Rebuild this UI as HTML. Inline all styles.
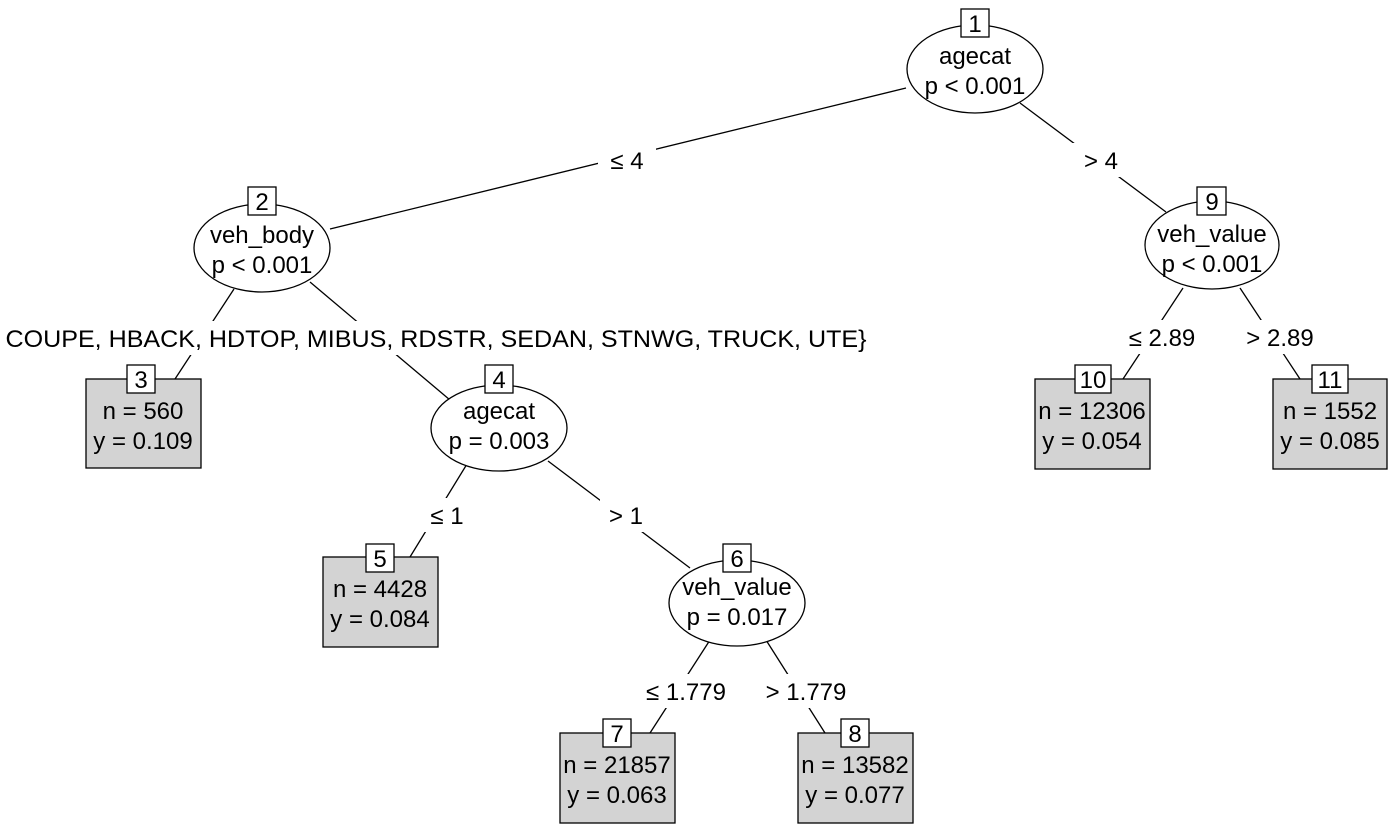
<!DOCTYPE html>
<html><head><style>body{margin:0;background:#fff}svg{display:block}text{font-family:"Liberation Sans",Arial,sans-serif;font-size:24px;fill:#000}</style></head>
<body>
<svg width="1390" height="828" viewBox="0 0 1390 828" xmlns="http://www.w3.org/2000/svg">
<g stroke="#000" stroke-width="1.3" fill="none">
<line x1="906" y1="88" x2="330" y2="229"/>
<line x1="1020" y1="103" x2="1166" y2="212"/>
<line x1="234" y1="289" x2="175" y2="379"/>
<line x1="310" y1="282" x2="450" y2="400"/>
<line x1="467" y1="464" x2="410" y2="557"/>
<line x1="548" y1="461" x2="690" y2="568"/>
<line x1="710" y1="640" x2="650" y2="733"/>
<line x1="766" y1="640" x2="825" y2="733"/>
<line x1="1183" y1="288" x2="1123" y2="379"/>
<line x1="1240" y1="288" x2="1300" y2="379"/>
</g>
<g fill="#fff">
<rect x="598" y="143" width="58" height="34"/>
<rect x="1072" y="143" width="58" height="34"/>
<rect x="0" y="321" width="872" height="34"/>
<rect x="421" y="498" width="52" height="34"/>
<rect x="600" y="498" width="52" height="34"/>
<rect x="636" y="674" width="100" height="34"/>
<rect x="756" y="674" width="100" height="34"/>
<rect x="1118" y="320" width="88" height="34"/>
<rect x="1236" y="320" width="88" height="34"/>
</g>
<g text-anchor="middle">
<text x="627" y="169">≤ 4</text>
<text x="1101" y="169">&gt; 4</text>
<text x="436" y="347" textLength="861" lengthAdjust="spacingAndGlyphs">COUPE, HBACK, HDTOP, MIBUS, RDSTR, SEDAN, STNWG, TRUCK, UTE}</text>
<text x="447" y="524">≤ 1</text>
<text x="626" y="524">&gt; 1</text>
<text x="686" y="700">≤ 1.779</text>
<text x="806" y="700">&gt; 1.779</text>
<text x="1162" y="346">≤ 2.89</text>
<text x="1280" y="346">&gt; 2.89</text>
</g>
<g stroke="#000" stroke-width="1.3" fill="#fff">
<ellipse cx="975" cy="69" rx="68" ry="44"/>
<ellipse cx="262" cy="248" rx="68" ry="44"/>
<ellipse cx="499" cy="428" rx="68" ry="43"/>
<ellipse cx="737" cy="603" rx="68" ry="43"/>
<ellipse cx="1212" cy="245" rx="67" ry="44"/>
</g>
<g stroke="#000" stroke-width="1.3" fill="#d3d3d3">
<rect x="86" y="379" width="115" height="89"/>
<rect x="323" y="557" width="115" height="90"/>
<rect x="560" y="733" width="115" height="90"/>
<rect x="798" y="733" width="115" height="90"/>
<rect x="1035" y="379" width="115" height="90"/>
<rect x="1273" y="379" width="114" height="90"/>
</g>
<g stroke="#000" stroke-width="1.3" fill="#fff">
<rect x="961" y="9" width="28" height="28"/>
<rect x="248" y="187" width="28" height="28"/>
<rect x="127" y="365" width="28" height="28"/>
<rect x="485" y="365" width="28" height="28"/>
<rect x="366" y="544" width="28" height="28"/>
<rect x="723" y="544" width="28" height="28"/>
<rect x="603" y="719" width="28" height="28"/>
<rect x="841" y="719" width="28" height="28"/>
<rect x="1197" y="187" width="29" height="28"/>
<rect x="1075" y="365" width="36" height="28"/>
<rect x="1312" y="365" width="36" height="28"/>
</g>
<g text-anchor="middle">
<text x="975" y="32">1</text>
<text x="975" y="64">agecat</text><text x="975" y="94">p &lt; 0.001</text>
<text x="262" y="210">2</text>
<text x="262" y="243">veh_body</text><text x="262" y="273">p &lt; 0.001</text>
<text x="141" y="388">3</text>
<text x="143" y="419">n = 560</text><text x="143" y="449">y = 0.109</text>
<text x="499" y="388">4</text>
<text x="499" y="419">agecat</text><text x="499" y="449">p = 0.003</text>
<text x="380" y="567">5</text>
<text x="380" y="597">n = 4428</text><text x="380" y="627">y = 0.084</text>
<text x="737" y="567">6</text>
<text x="737" y="595">veh_value</text><text x="737" y="625">p = 0.017</text>
<text x="617" y="742">7</text>
<text x="617" y="773">n = 21857</text><text x="617" y="803">y = 0.063</text>
<text x="855" y="742">8</text>
<text x="855" y="773">n = 13582</text><text x="855" y="803">y = 0.077</text>
<text x="1212" y="210">9</text>
<text x="1212" y="242">veh_value</text><text x="1212" y="272">p &lt; 0.001</text>
<text x="1093" y="388">10</text>
<text x="1092" y="419">n = 12306</text><text x="1092" y="449">y = 0.054</text>
<text x="1330" y="388">11</text>
<text x="1330" y="419">n = 1552</text><text x="1330" y="449">y = 0.085</text>
</g>
</svg>
</body></html>
